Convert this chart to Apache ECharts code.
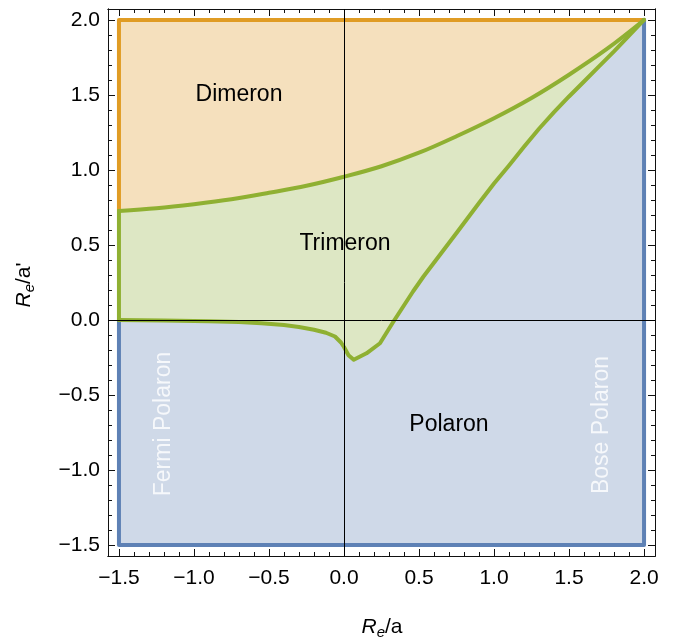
<!DOCTYPE html>
<html><head><meta charset="utf-8">
<script src="https://cdn.jsdelivr.net/npm/echarts@6/dist/echarts.min.js"></script>
<style>html,body{margin:0;padding:0;background:#fff}#c{width:673px;height:639px}</style>
</head><body><div id="c"></div>
<script>
// Upper phase boundary (Dimeron / Trimeron)
const upperCurve = [
  [-1.5, 0.727], [-1.25, 0.745], [-1.0, 0.772], [-0.75, 0.805], [-0.5, 0.848],
  [-0.25, 0.895], [0.0, 0.955], [0.25, 1.025], [0.5, 1.115], [0.75, 1.225],
  [1.0, 1.345], [1.25, 1.48], [1.5, 1.635], [1.75, 1.805], [2.0, 2.0]
];
// Lower phase boundary (Trimeron / Polaron)
const lowerCurve = [
  [-1.5, 0.0], [-1.2, -0.003], [-0.9, -0.008], [-0.7, -0.014], [-0.55, -0.022],
  [-0.4, -0.034], [-0.3, -0.047], [-0.2, -0.065], [-0.12, -0.085], [-0.06, -0.11],
  [-0.02, -0.15], [0.0, -0.18], [0.03, -0.235], [0.065, -0.265], [0.15, -0.222],
  [0.24, -0.155], [0.33, -0.01], [0.46, 0.19], [0.53, 0.29], [0.75, 0.58],
  [0.9, 0.78], [1.0, 0.91], [1.1, 1.03], [1.2, 1.155], [1.3, 1.275], [1.4, 1.385],
  [1.5, 1.49], [1.6, 1.59], [1.7, 1.69], [1.8, 1.79], [1.9, 1.895], [2.0, 2.0]
];
const domainX = [-1.5, 2.0];
const domainY = [-1.5, 2.0];
const majorTicks = [-1.5, -1.0, -0.5, 0.0, 0.5, 1.0, 1.5, 2.0];
const tickLabels = ['\u22121.5', '\u22121.0', '\u22120.5', '0.0', '0.5', '1.0', '1.5', '2.0'];
const minorTicks = [];
for (let i = -15; i <= 20; i++) minorTicks.push(i / 10);
const regionLabels = ['Dimeron', 'Trimeron', 'Polaron'];
const edgeLabels = ['Fermi Polaron', 'Bose Polaron'];

const FONT = "'Liberation Sans', Arial, Helvetica, sans-serif";
const C_ORANGE = '#E09C24', C_GREEN = '#8FB032', C_BLUE = '#5E81B5';
const F_ORANGE = '#F5E0BD', F_GREEN = '#DDE7C4', F_BLUE = '#CFD9E8';

const [x0, x1] = domainX, [y0, y1] = domainY;
const dimeronPoly = [[x0, y1], [x1, y1]].concat(upperCurve.slice().reverse());
const trimeronPoly = upperCurve.concat(lowerCurve.slice().reverse());
const polaronPoly = lowerCurve.concat([[x1, y0], [x0, y0]]);

function fmt(v) {
  for (let i = 0; i < majorTicks.length; i++) if (Math.abs(majorTicks[i] - v) < 1e-6) return tickLabels[i];
  return '';
}
const AX_MIN = -1.573, AX_MAX = 2.073;
function mkAxis(position, ticks, len, withLabels, isY) {
  return {
    type: 'value', min: AX_MIN, max: AX_MAX, position: position,
    axisLine: { show: true, onZero: false, lineStyle: { color: '#111', width: 1 } },
    axisTick: { show: true, inside: true, length: len, customValues: ticks, lineStyle: { color: '#111', width: 1 } },
    axisLabel: withLabels ? { show: true, customValues: majorTicks, formatter: fmt, fontSize: 21, color: '#000',
      fontFamily: FONT, margin: isY ? 8 : 12, showMinLabel: true, showMaxLabel: true } : { show: false },
    splitLine: { show: false }, minorTick: { show: false }
  };
}
function polySeries(pts, fill) {
  return {
    type: 'custom', coordinateSystem: 'cartesian2d', xAxisIndex: 0, yAxisIndex: 0,
    data: [[0, 0]], silent: true, z: 1, clip: true,
    renderItem: function (params, api) {
      return { type: 'polygon', shape: { points: pts.map(p => api.coord(p)) },
        style: { fill: fill, stroke: fill, lineWidth: 0.6 } };
    }
  };
}
function lineSeries(data, color, z, smooth) {
  return { type: 'line', data: data, showSymbol: false, symbol: 'none', silent: true, z: z || 3,
    smooth: smooth || false,
    lineStyle: { color: color, width: 4, cap: 'round', join: 'round' }, xAxisIndex: 0, yAxisIndex: 0 };
}

const chart = echarts.init(document.getElementById('c'));
chart.setOption({
  animation: false,
  backgroundColor: '#fff',
  grid: { left: 108, right: 18, top: 9, bottom: 83, containLabel: false },
  xAxis: [mkAxis('bottom', majorTicks, 7, true, false), mkAxis('bottom', minorTicks, 4, false, false),
          mkAxis('top', majorTicks, 7, false, false), mkAxis('top', minorTicks, 4, false, false)],
  yAxis: [mkAxis('left', majorTicks, 7, true, true), mkAxis('left', minorTicks, 4, false, true),
          mkAxis('right', majorTicks, 7, false, true), mkAxis('right', minorTicks, 4, false, true)],
  series: [
    polySeries(dimeronPoly, F_ORANGE),
    polySeries(trimeronPoly, F_GREEN),
    polySeries(polaronPoly, F_BLUE),
    lineSeries([[x0, upperCurve[0][1]], [x0, y1], [x1, y1]], C_ORANGE),
    lineSeries([[x0, y0 + 1.5], [x0, y0], [x1, y0], [x1, y1]], C_BLUE),
    lineSeries([[x0, lowerCurve[0][1]], [x0, upperCurve[0][1]]], C_GREEN),
    lineSeries(upperCurve, C_GREEN, 4, 0.35),
    lineSeries(lowerCurve, C_GREEN, 4, false),
    { type: 'line', data: [[0, 0]], showSymbol: false, symbol: 'none', silent: true, z: 6,
      lineStyle: { width: 0 },
      markLine: { silent: true, symbol: ['none', 'none'], label: { show: false }, animation: false,
        lineStyle: { color: '#000', width: 1, type: 'solid' },
        emphasis: { disabled: true },
        data: [{ xAxis: 0 }, { yAxis: 0 }] } }
  ],
  graphic: [
    { type: 'text', x: 239, y: 95, z: 10, style: { text: regionLabels[0], font: '23px ' + FONT, fill: '#000', align: 'center', verticalAlign: 'middle' } },
    { type: 'text', x: 345, y: 244, z: 10, style: { text: regionLabels[1], font: '23px ' + FONT, fill: '#000', align: 'center', verticalAlign: 'middle' } },
    { type: 'text', x: 449, y: 425, z: 10, style: { text: regionLabels[2], font: '23px ' + FONT, fill: '#000', align: 'center', verticalAlign: 'middle' } },
    { type: 'text', x: 164, y: 424, rotation: Math.PI / 2, z: 10, style: { text: edgeLabels[0], font: '23px ' + FONT, fill: 'rgba(255,255,255,0.8)', align: 'center', verticalAlign: 'middle' } },
    { type: 'text', x: 602, y: 425, rotation: Math.PI / 2, z: 10, style: { text: edgeLabels[1], font: '23px ' + FONT, fill: 'rgba(255,255,255,0.8)', align: 'center', verticalAlign: 'middle' } },
    { type: 'text', x: 382, y: 627, z: 10, style: { text: '{i|R}{s|e}{n|/a}', align: 'center', verticalAlign: 'middle',
      rich: { i: { fontStyle: 'italic', fontSize: 21, fontFamily: FONT, fill: '#000' },
              s: { fontStyle: 'italic', fontSize: 15, fontFamily: FONT, fill: '#000', padding: [12, 0, 0, 0] },
              n: { fontSize: 21, fontFamily: FONT, fill: '#000' } } } },
    { type: 'text', x: 24, y: 285, rotation: Math.PI / 2, z: 10, style: { text: "{i|R}{s|e}{n|/a'}", align: 'center', verticalAlign: 'middle',
      rich: { i: { fontStyle: 'italic', fontSize: 21, fontFamily: FONT, fill: '#000' },
              s: { fontStyle: 'italic', fontSize: 15, fontFamily: FONT, fill: '#000', padding: [12, 0, 0, 0] },
              n: { fontSize: 21, fontFamily: FONT, fill: '#000' } } } }
  ]
});
</script></body></html>
